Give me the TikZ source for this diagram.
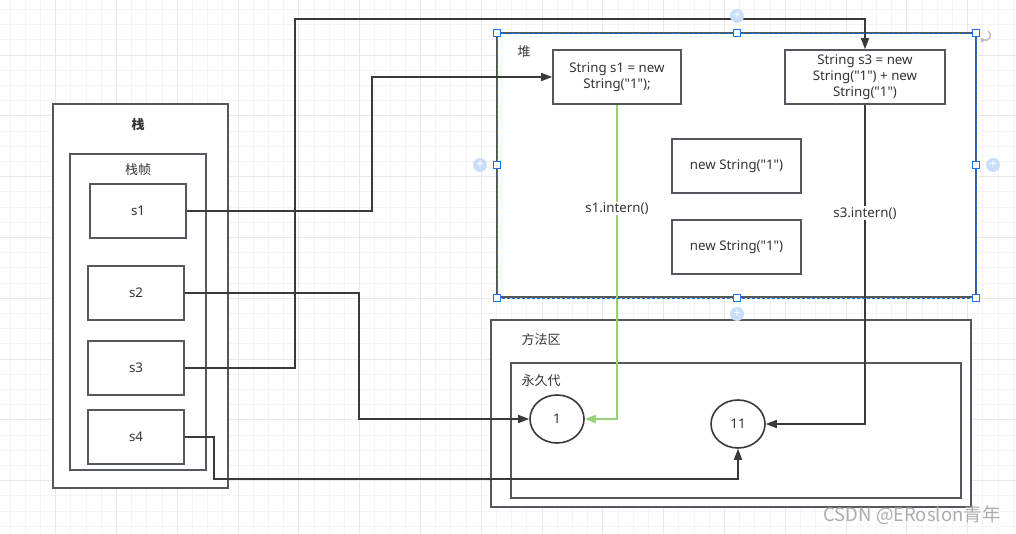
\documentclass[tikz,border=0pt]{standalone}
\usepackage{fontspec}
\setmainfont{Noto Sans CJK SC}
\newfontfamily\latinfont{Noto Sans}
\usetikzlibrary{arrows.meta}
\usetikzlibrary{shapes.geometric}
\definecolor{boxgray}{HTML}{54575C}
\definecolor{linegray}{HTML}{3A3A3A}
\definecolor{interngreen}{HTML}{97D077}
\definecolor{gridminor}{HTML}{F4F4F4}
\definecolor{gridmajor}{HTML}{E8E8E8}
\definecolor{selblue}{HTML}{1A73E8}
\definecolor{plusblue}{HTML}{C9DEF8}
\definecolor{textgray}{HTML}{333333}
\tikzset{
        txt/.style={text=textgray, font=\latinfont\fontsize{13.3}{16}\selectfont},
        % Memory areas
        area/.style={draw=boxgray, fill=white, line width=1.6pt},
        area_label/.style={text=textgray, font=\fontsize{13}{15}\selectfont, inner sep=0pt},
        % Variables on the stack and objects on the heap
        var_box/.style={txt, draw=boxgray, fill=white, line width=1.6pt, minimum width=96pt, minimum height=54pt, align=center},
        obj_box/.style={var_box, minimum width=129pt},
        % Entries of the string pool
        pool_entry/.style={txt, ellipse, draw=linegray, fill=white, line width=1.6pt, minimum width=54pt, minimum height=48pt, inner sep=0pt},
        % References
        ref/.style={draw=linegray, line width=1.6pt, -{Triangle[length=11pt,width=8pt]}},
        ref_label/.style={txt, fill=white, inner sep=1pt},
        % Editor selection marks
        handle/.style={draw=selblue, fill=white, line width=0.9pt, minimum size=7pt, inner sep=0pt},
        plus_mark/.style={circle, fill=plusblue, minimum size=14pt, inner sep=0pt, text=white, font=\latinfont\bfseries\fontsize{13}{13}\selectfont}
}
\begin{document}
\begin{tikzpicture}[x=1pt, y=-1pt]
    \useasboundingbox (0,0) rectangle (1016,534);
    \fill[white] (0,0) rectangle (1016,534);
    % grid
    \foreach \i in {0,...,67} {
        \draw[gridminor, line width=0.8pt] ({-5.2+15.2*\i},0) -- ({-5.2+15.2*\i},534);
    }
    \foreach \j in {0,...,36} {
        \draw[gridminor, line width=0.8pt] (0,{-5.8+15.2*\j}) -- (1016,{-5.8+15.2*\j});
    }
    \foreach \i in {0,...,17} {
        \draw[gridmajor, line width=0.9pt] ({-5.2+60.8*\i},0) -- ({-5.2+60.8*\i},534);
    }
    \foreach \j in {0,...,9} {
        \draw[gridmajor, line width=0.9pt] (0,{-5.8+60.8*\j}) -- (1016,{-5.8+60.8*\j});
    }

    % stack
    \draw[area] (53,104) rectangle (228,488);
    \node[area_label, font=\bfseries\fontsize{13}{15}\selectfont] (stack_title) at (138,125) {栈};
    \draw[area] (70,154) rectangle (206,470);
    \node[area_label] (frame_title) at (138,170) {栈帧};
    \node[var_box] (stack_s1) at (138,211) {s1};
    \node[var_box] (stack_s2) at (136,293) {s2};
    \node[var_box] (stack_s3) at (136,368) {s3};
    \node[var_box] (stack_s4) at (136,437) {s4};

    % heap
    \draw[area] (497,33) rectangle (976,297);
    \node[area_label] (heap_title) at (524,52) {堆};
    \node[obj_box, minimum width=128pt] (heap_s1) at (617,77) {String s1 = new\\String("1");};
    \node[obj_box, minimum width=160pt] (heap_s3) at (865,77) {String s3 = new\\String("1") + new\\String("1")};
    \node[obj_box] (heap_new_a) at (736.5,166) {new String("1")};
    \node[obj_box] (heap_new_b) at (736.5,247) {new String("1")};

    % method area
    \draw[area] (491,320) rectangle (971,507);
    \node[area_label] (method_title) at (541,340) {方法区};
    \draw[area] (511,363) rectangle (961,498);
    \node[area_label] (perm_title) at (541,381) {永久代};
    \node[pool_entry] (pool_1) at (557,419) {1};
    \node[pool_entry] (pool_11) at (738,424) {11};

    % references
    \draw[ref] (stack_s1.east) -- ++(185,0) |- (heap_s1.west);
    \draw[ref] (stack_s2.east) -- ++(174,0) |- (pool_1.west);
    \draw[ref] (stack_s3.east) -- ++(110,0) -- ++(0,-349) -| (heap_s3.north);
    \draw[ref] (stack_s4.east) -- ++(29,0) -- ++(0,42) -| (pool_11.south);
    \draw[ref, draw=interngreen, line width=1.8pt] (heap_s1.south) |- node[ref_label, pos=0.165] {s1.intern()} (pool_1.east);
    \draw[ref] (heap_s3.south) |- node[ref_label, pos=0.17] {s3.intern()} (pool_11.east);

    % selection of the heap
    \draw[selblue, line width=0.9pt, dash pattern=on 3pt off 2pt] (497,33) rectangle (976,298);
    \foreach \x/\y [count=\k] in {497/33, 737/33, 976/33, 497/165, 976/165, 497/298, 737/298, 976/298} {
        \node[handle] (handle_\k) at (\x,\y) {};
    }
    \node[plus_mark] (plus_top) at (737,16) {+};
    \node[plus_mark] (plus_left) at (480,165) {+};
    \node[plus_mark] (plus_right) at (993,165) {+};
    \node[plus_mark] (plus_bottom) at (737,314) {+};
    \draw[gray!55, line width=1.3pt, -{Triangle[length=4pt,width=5pt]}] (988,31) arc[start angle=-60, end angle=150, radius=5] ;

    % watermark
    \node[text=gray!65, font=\fontsize{18.5}{20}\selectfont, inner sep=0pt] (watermark) at (912,515) {CSDN @ERoslon青年};
\end{tikzpicture}
\end{document}
